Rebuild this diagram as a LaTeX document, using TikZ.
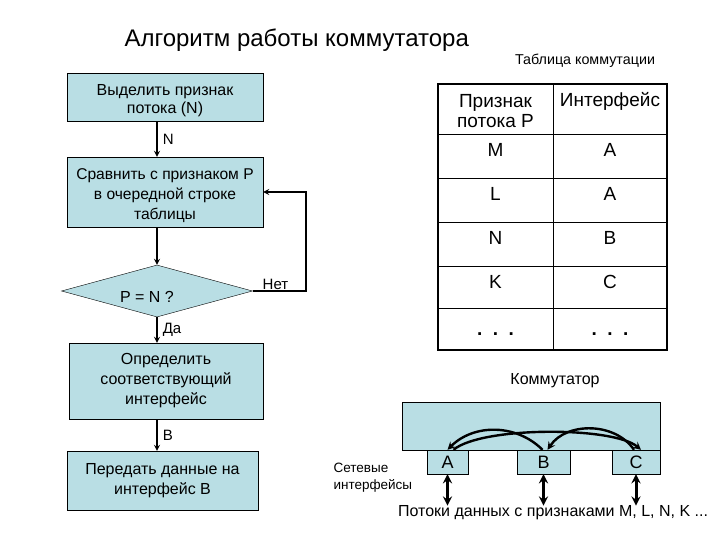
\documentclass[tikz,border=0pt]{standalone}
\usepackage{fontspec}
\setmainfont{Liberation Sans}
\usetikzlibrary{shapes.geometric}
\definecolor{boxfill}{RGB}{185,222,228}

\begin{document}
\begin{tikzpicture}[x=1pt, y=-1pt, >=stealth, thin,
    block/.style={draw, fill=boxfill, align=center, inner sep=0pt, font=\fontsize{16}{20}\selectfont},
    conn/.style={->, line width=1.6pt},
    lbl/.style={font=\fontsize{15}{17}\selectfont, inner sep=5pt},
    cell/.style={font=\fontsize{19}{20}\selectfont, align=center},
    port/.style={draw, fill=boxfill, inner sep=0pt, minimum height=24pt, font=\fontsize{18}{18}\selectfont},
    flow/.style={->, line width=2.4pt},
    dbl/.style={<->, line width=3pt}]
    \useasboundingbox (0,0) rectangle (720,540);

    % algorithm
    \node[anchor=west, font=\fontsize{24}{26}\selectfont] (title) at (121,40) {Алгоритм работы коммутатора};
    \node[block, minimum width=196pt, minimum height=48pt, font=\fontsize{16}{18}\selectfont] (sel) at (165,97) {\rule{0pt}{18pt}Выделить признак\\потока (N)};
    \node[block, minimum width=196pt, minimum height=70pt, font=\fontsize{15.6}{20}\selectfont] (cmp) at (165,192) {\rule{0pt}{18pt}Сравнить с признаком P\\в очередной строке\\таблицы};
    \node[draw, diamond, fill=boxfill, minimum width=191pt, minimum height=52pt, inner sep=0pt] (chk) at (157,291) {};
    \node[font=\fontsize{16}{16}\selectfont] (pn) at ([xshift=-10pt, yshift=-6pt]chk.center) {P = N ?};
    \node[block, minimum width=194pt, minimum height=76pt] (det) at (166,381) {Определить\\соответствующий\\интерфейс};
    \node[block, minimum width=191pt, minimum height=59pt] (snd) at (162.5,480.5) {Передать данные на\\интерфейс B};

    \draw[conn] (sel.south -| chk.north) -- (cmp.north -| chk.north) node[midway, right, lbl] {N};
    \draw[conn] (cmp.south -| chk.north) -- (chk.north);
    \draw[conn] (chk.south) -- (det.north -| chk.south) node[midway, right, lbl] {Да};
    \draw[conn] (det.south -| chk.south) -- (snd.north -| chk.south) node[midway, right, lbl] {B};
    \draw[conn] (chk.east) -- ++(53,0) node[pos=0.43, above, lbl, inner sep=1pt] {Нет} |- (cmp.east);

    % table
    \node[font=\fontsize{14.3}{16}\selectfont] (tabname) at (585,61) {Таблица коммутации};
    \draw[line width=2pt] (438,84) rectangle (667,350);
    \draw (553,84) -- (553,350);
    \foreach \y in {134,178,222,266,308}
        \draw (438,\y) -- (667,\y);
    \node[cell] (hp) at (495.5,111) {Признак\\потока P};
    \node[cell] (hi) at (610,101) {Интерфейс};
    \foreach \y/\p/\i in {150/M/A, 194/L/A, 238/N/B, 282/K/C} {
        \node[cell] (p\p) at (495.5,\y) {\p};
        \node[cell] (i\p) at (610,\y) {\i};
    }
    \node[cell] (pdots) at (495.5,334) {\textbf{.\ \ .\ \ .}};
    \node[cell] (idots) at (610,334) {\textbf{.\ \ .\ \ .}};

    % switch
    \node[font=\fontsize{16}{18}\selectfont] (swname) at (555,381) {Коммутатор};
    \node[draw, fill=boxfill, minimum width=258pt, minimum height=48pt, inner sep=0pt] (sw) at (531,426) {};
    \node[port, minimum width=41pt] (pA) at (447.5,462) {A};
    \node[port, minimum width=53pt] (pB) at (543.5,462) {B};
    \node[port, minimum width=48pt] (pC) at (636,462) {C};
    \node[anchor=west, align=left, font=\fontsize{13.5}{17}\selectfont] (nics) at (330,477.5) {Сетевые\\интерфейсы};
    \node[font=\fontsize{16}{17}\selectfont, inner sep=0pt] (flows) at (553,513) {Потоки данных с признаками M, L, N, K ...};

    \draw[flow] ([xshift=-1pt]pB.north) to[out=135, in=45] (pA.north);
    \draw[flow] ([xshift=-2pt]pC.north) to[out=124, in=56] ([xshift=4pt]pB.north);
    \draw[flow] ([xshift=6pt]pA.north) to[out=40, in=140, looseness=0.5] ([xshift=5pt]pC.north);
    \foreach \p in {pA,pB,pC}
        \draw[dbl] (\p.south) -- (\p.south |- flows.north);
\end{tikzpicture}
\end{document}
